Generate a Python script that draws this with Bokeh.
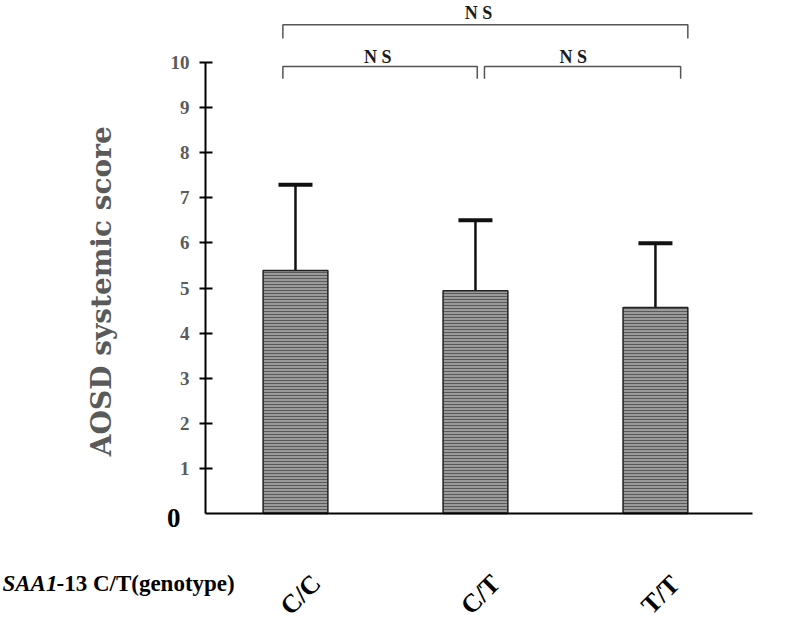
from math import pi
from bokeh.plotting import figure
from bokeh.models import (Range1d, FixedTicker, LinearAxis, ColumnDataSource,
                          Whisker, TeeHead)
from bokeh.core.properties import value
from bokeh.embed import file_html
from bokeh.resources import INLINE

# ---- data -------------------------------------------------------------
genotypes = ["C/C", "C/T", "T/T"]
means = [5.39, 4.94, 4.57]
sds = [1.90, 1.56, 1.42]
y_ticks = [1, 2, 3, 4, 5, 6, 7, 8, 9, 10]

# significance brackets (group index pairs) and their labels
comparisons = [(0, 1), (1, 2), (0, 2)]
comp_labels = ["N S", "N S", "N S"]

y_title = "AOSD systemic score"
x_title_gene = "SAA1"
x_title_rest = "-13 C/T(genotype)"

# ---- layout / style ----------------------------------------------------
SERIF = "Liberation Serif"
GRAY = "#5a5a5a"

xpos = [i + 0.5 for i in range(len(genotypes))]
upper = [m + s for m, s in zip(means, sds)]

p = figure(width=800, height=622, output_backend="svg", toolbar_location=None,
           x_range=Range1d(-1.139, 3.306), y_range=Range1d(-2.417, 11.375),
           x_axis_location=None, y_axis_location=None, min_border=0)
p.outline_line_color = None
p.xgrid.visible = False
p.ygrid.visible = False
p.background_fill_color = "white"

# y axis, crossing at x = 0
ax = LinearAxis(fixed_location=0, bounds=(0, 10),
                ticker=FixedTicker(ticks=y_ticks))
ax.minor_tick_line_color = None
ax.axis_line_width = 2
ax.axis_line_color = "black"
ax.major_tick_line_width = 2
ax.major_tick_line_color = "black"
ax.major_tick_in = 7
ax.major_tick_out = 6
ax.major_label_standoff = 10
ax.major_label_text_font = SERIF
ax.major_label_text_font_style = "bold"
ax.major_label_text_font_size = "19px"
ax.major_label_text_color = GRAY
p.add_layout(ax, "left")

# x axis line, crossing at y = 0
bx = LinearAxis(fixed_location=0, bounds=(0, 3.04), ticker=FixedTicker(ticks=[]))
bx.axis_line_width = 2
bx.axis_line_color = "black"
bx.major_tick_line_color = None
bx.minor_tick_line_color = None
bx.major_label_text_font_size = "0px"
p.add_layout(bx, "below")

# bars
src = ColumnDataSource(dict(x=xpos, top=means, upper=upper, label=genotypes))
p.vbar(x="x", top="top", bottom=0, width=0.36, source=src,
       fill_color="#9a9a9a", line_color="#222222", line_width=1.5,
       hatch_pattern="horizontal_line", hatch_color="#5a5a5a",
       hatch_scale=3, hatch_weight=1)

# error bars (upper only)
p.add_layout(Whisker(base="x", lower="top", upper="upper", source=src,
                     line_width=2.5, line_color="#111111",
                     lower_head=None,
                     upper_head=TeeHead(size=34, line_width=4, line_color="#111111")))

# category labels (rotated)
p.text(x="x", y=-1.80, text="label", source=src, angle=pi / 4,
       x_offset=5, text_align="center", text_baseline="middle",
       text_font=value(SERIF), text_font_style="bold", text_font_size="26px",
       text_color="black")

# significance brackets
br_left = [0.43, 1.55, 0.43]
br_right = [1.51, 2.64, 2.68]
br_level = [9.91, 9.91, 10.84]
br_drop = [0.27, 0.27, 0.31]
xs, ys = [], []
for x0, x1, yl, d in zip(br_left, br_right, br_level, br_drop):
    xs.append([x0, x0, x1, x1])
    ys.append([yl - d, yl, yl, yl - d])
p.multi_line(xs=xs, ys=ys, line_color="#555555", line_width=1.5)

ns_x = [0.957, 2.044, 1.517]
ns_y = [10.13, 10.13, 11.09]
p.text(x=ns_x, y=ns_y, text=comp_labels, text_align="center",
       text_baseline="alphabetic", text_font=value(SERIF),
       text_font_style="bold", text_font_size="18px", text_color="#1a1a1a")

# zero label
p.text(x=[-0.139], y=[-0.09], text=["0"], text_align="right",
       text_baseline="middle", text_font=value(SERIF),
       text_font_style="bold", text_font_size="27px", text_color="black")

# y title
p.text(x=[-0.578], y=[4.93], text=[y_title], angle=pi / 2,
       text_align="center", text_baseline="middle",
       text_font=value("DejaVu Serif"), text_font_style="bold",
       text_font_size="28px", text_color=GRAY)

# x title (gene name italic)
p.text(x=[-1.128], y=[-1.55], text=[x_title_gene], text_align="left",
       text_baseline="middle", text_font=value(SERIF),
       text_font_style="bold italic", text_font_size="23px", text_color="black")
p.text(x=[-1.128], y=[-1.55], text=[x_title_rest], x_offset=54,
       text_align="left", text_baseline="middle", text_font=value(SERIF),
       text_font_style="bold", text_font_size="23px", text_color="black")

open("out.html", "w").write(file_html(p, INLINE))
